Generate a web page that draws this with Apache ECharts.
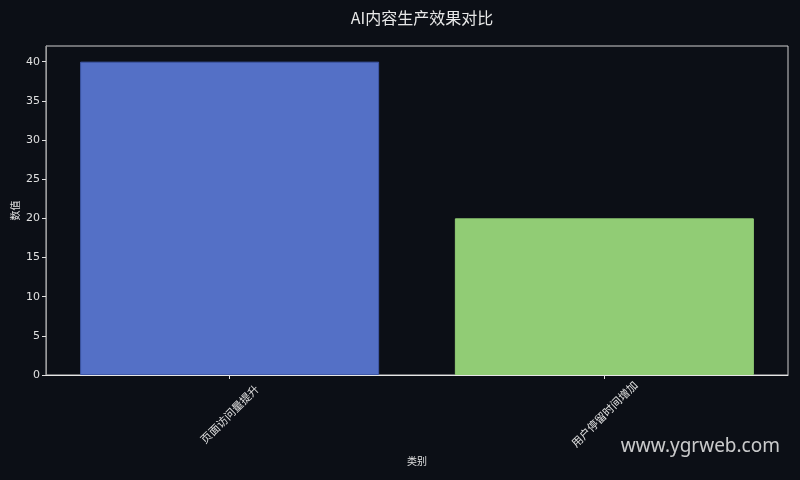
<!DOCTYPE html>
<html>
<head>
<meta charset="utf-8">
<script src="https://cdn.jsdelivr.net/npm/echarts@6/dist/echarts.min.js"></script>
<style>
html,body{margin:0;padding:0;background:#0c0f16;}
#chart{width:800px;height:480px;}
</style>
</head>
<body>
<div id="chart"></div>
<script>
const title = 'AI内容生产效果对比';
const categories = ['页面访问量提升', '用户停留时间增加'];
const values = [40, 20];
const barColors = ['#5470c6', '#91cc75'];
const yTicks = [0, 5, 10, 15, 20, 25, 30, 35, 40];
const xName = '类别';
const yName = '数值';
const watermark = 'www.ygrweb.com';

const font = '"DejaVu Sans", "Noto Sans CJK SC", sans-serif';
const chart = echarts.init(document.getElementById('chart'));
chart.setOption({
  backgroundColor: '#0c0f16',
  animation: false,
  title: {
    text: title,
    left: 417, top: 5, textAlign: 'center',
    textStyle: {color: '#e8e8e8', fontSize: 16, fontWeight: 'normal', fontFamily: '"Noto Sans CJK SC", sans-serif'}
  },
  grid: {left: 46, right: 12, top: 46, bottom: 105, outerBoundsMode: 'none', containLabel: false, show: true, borderColor: '#cfcfcf', borderWidth: 1},
  xAxis: {
    type: 'value', min: -0.49, max: 1.49,
    name: xName, nameLocation: 'middle', nameGap: 81, nameMoveOverlap: false,
    nameTextStyle: {color: '#e0e0e0', fontSize: 10, fontFamily: '"Noto Sans CJK SC", sans-serif'},
    splitLine: {show: false},
    axisLine: {show: true, onZero: false, lineStyle: {color: '#e6e6e6', width: 1}},
    axisTick: {show: true, customValues: [0, 1], length: 4, inside: false, lineStyle: {color: '#e0e0e0'}},
    axisLabel: {
      customValues: [0, 1], rotate: 45, align: 'center', verticalAlign: 'middle', margin: 39,
      color: '#e0e0e0', fontSize: 11, fontFamily: '"Noto Sans CJK SC", sans-serif',
      formatter: v => categories[Math.round(v)]
    }
  },
  yAxis: {
    type: 'value', min: 0, max: 42,
    name: yName, nameLocation: 'middle', nameGap: 26, nameRotate: 90, nameMoveOverlap: false,
    nameTextStyle: {color: '#e0e0e0', fontSize: 10, fontFamily: '"Noto Sans CJK SC", sans-serif'},
    splitLine: {show: false},
    axisLine: {show: true, onZero: false, lineStyle: {color: '#9a9a9a', width: 1}},
    axisTick: {show: true, customValues: yTicks, length: 4, lineStyle: {color: '#e0e0e0'}},
    axisLabel: {customValues: yTicks, color: '#e0e0e0', fontSize: 11, margin: 6, fontFamily: font}
  },
  series: [{
    type: 'bar',
    barWidth: 299,
    data: values.map((v, i) => ({value: [i, v], itemStyle: {color: barColors[i], borderColor: i === 0 ? '#3f58a8' : barColors[i], borderWidth: 1}}))
  }],
  graphic: [{
    type: 'text', right: 20, top: 437,
    style: {text: watermark, fill: 'rgba(235,235,235,0.85)', fontSize: 19, fontFamily: '"Noto Sans", sans-serif'}
  }]
});
</script>
</body>
</html>
